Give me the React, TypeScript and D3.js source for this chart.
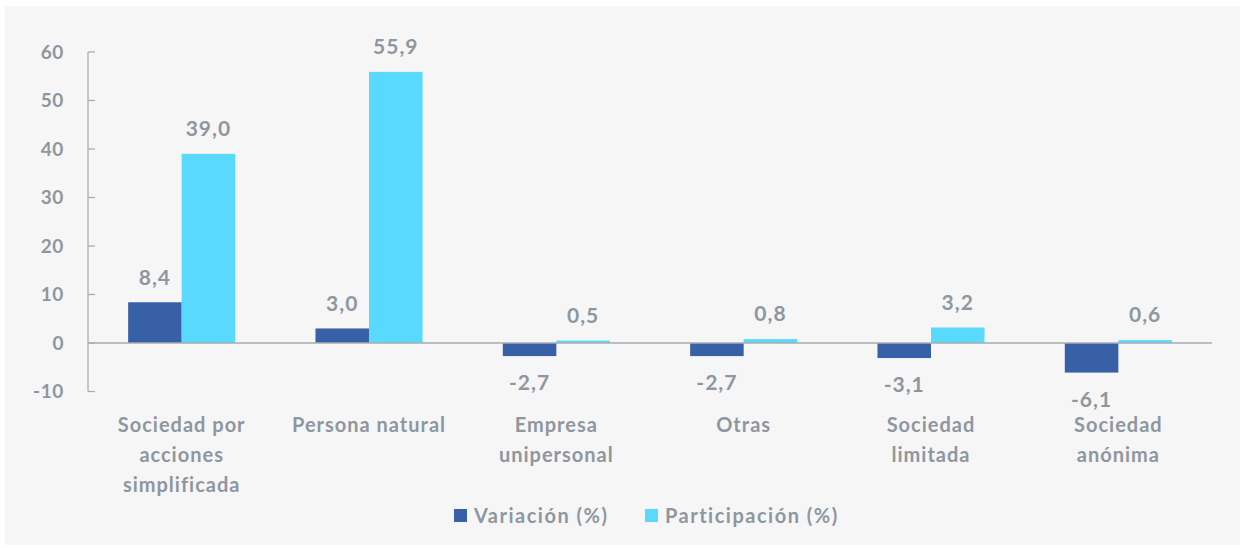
import React from 'react';
import * as d3 from 'd3';

const categories = [
  ['Sociedad por', 'acciones', 'simplificada'],
  ['Persona natural'],
  ['Empresa', 'unipersonal'],
  ['Otras'],
  ['Sociedad', 'limitada'],
  ['Sociedad', 'anónima'],
];
const variacion = [8.4, 3.0, -2.7, -2.7, -3.1, -6.1];
const participacion = [39.0, 55.9, 0.5, 0.8, 3.2, 0.6];
const seriesNames = ['Variación (%)', 'Participación (%)'];
const yTicks = [-10, 0, 10, 20, 30, 40, 50, 60];

const W = 1248;
const H = 548;
const grey = '#8e979f';
const axisColor = '#a9adb1';
const colors = ['#3860a6', '#5ad9fe'];
const font = 'Lato, "Open Sans", sans-serif';

const fmt = (v: number) => v.toFixed(1).replace('.', ',');

const App = () => {
  const left = 88;
  const right = 1212;
  const y = d3.scaleLinear().domain([-10, 60]).range([391.5, 52]);
  const x = d3.scaleBand<number>().domain(d3.range(categories.length)).range([left, right]);
  const inner = d3.scaleBand<number>().domain([0, 1]).range([0, x.bandwidth()]).paddingOuter(0.75).paddingInner(0);
  const series = [variacion, participacion];

  return (
    <div style={{ position: 'absolute', left: 0, top: 0 }}>
      <svg width={W} height={H} style={{ display: 'block', background: '#fff' }}>
        <rect x={5} y={6} width={1235} height={539} fill="#f6f6f6" />
        {/* y axis */}
        <line x1={left} x2={left} y1={y(60)} y2={y(-10)} stroke={axisColor} strokeWidth={1.3} />
        {yTicks.map((t) => (
          <g key={t}>
            <line x1={left} x2={left + 7} y1={y(t)} y2={y(t)} stroke={axisColor} strokeWidth={1.3} />
            <text x={64} y={y(t)} dy="0.35em" textAnchor="end" fill={grey} fontFamily={font} fontWeight={700} fontSize={19} letterSpacing={0.6}>
              {t}
            </text>
          </g>
        ))}
        {/* bars */}
        {series.map((vals, s) =>
          vals.map((v, i) => {
            const bx = (x(i) ?? 0) + (inner(s) ?? 0);
            const bw = inner.bandwidth();
            const y0 = y(0);
            const y1 = y(v);
            return (
              <g key={`${s}-${i}`}>
                <rect x={bx} y={Math.min(y0, y1)} width={bw} height={Math.max(Math.abs(y1 - y0), 1)} fill={colors[s]} />
                <text
                  x={bx + bw / 2}
                  y={v >= 0 ? y1 - 25 : y1 + 27}
                  dy="0.35em"
                  textAnchor="middle"
                  fill={grey}
                  fontFamily={font}
                  fontWeight={700}
                  fontSize={21}
                  letterSpacing={1}
                >
                  {fmt(v)}
                </text>
              </g>
            );
          })
        )}
        {/* x axis line */}
        <line x1={left} x2={right} y1={y(0)} y2={y(0)} stroke={axisColor} strokeWidth={1.3} />
        {/* category labels */}
        {categories.map((lines, i) => (
          <text key={i} textAnchor="middle" fill={grey} fontFamily={font} fontWeight={700} fontSize={20} letterSpacing={1}>
            {lines.map((l, j) => (
              <tspan key={j} x={(x(i) ?? 0) + x.bandwidth() / 2} y={425 + j * 30} dy="0.35em">
                {l}
              </tspan>
            ))}
          </text>
        ))}
        {/* legend */}
        {seriesNames.map((n, s) => {
          const lx = s === 0 ? 454 : 645;
          return (
            <g key={n}>
              <rect x={lx} y={509} width={13} height={13} fill={colors[s]} />
              <text x={lx + 20} y={516} dy="0.35em" fill={grey} fontFamily={font} fontWeight={700} fontSize={20} letterSpacing={1.5}>
                {n}
              </text>
            </g>
          );
        })}
      </svg>
    </div>
  );
};

export default App;
